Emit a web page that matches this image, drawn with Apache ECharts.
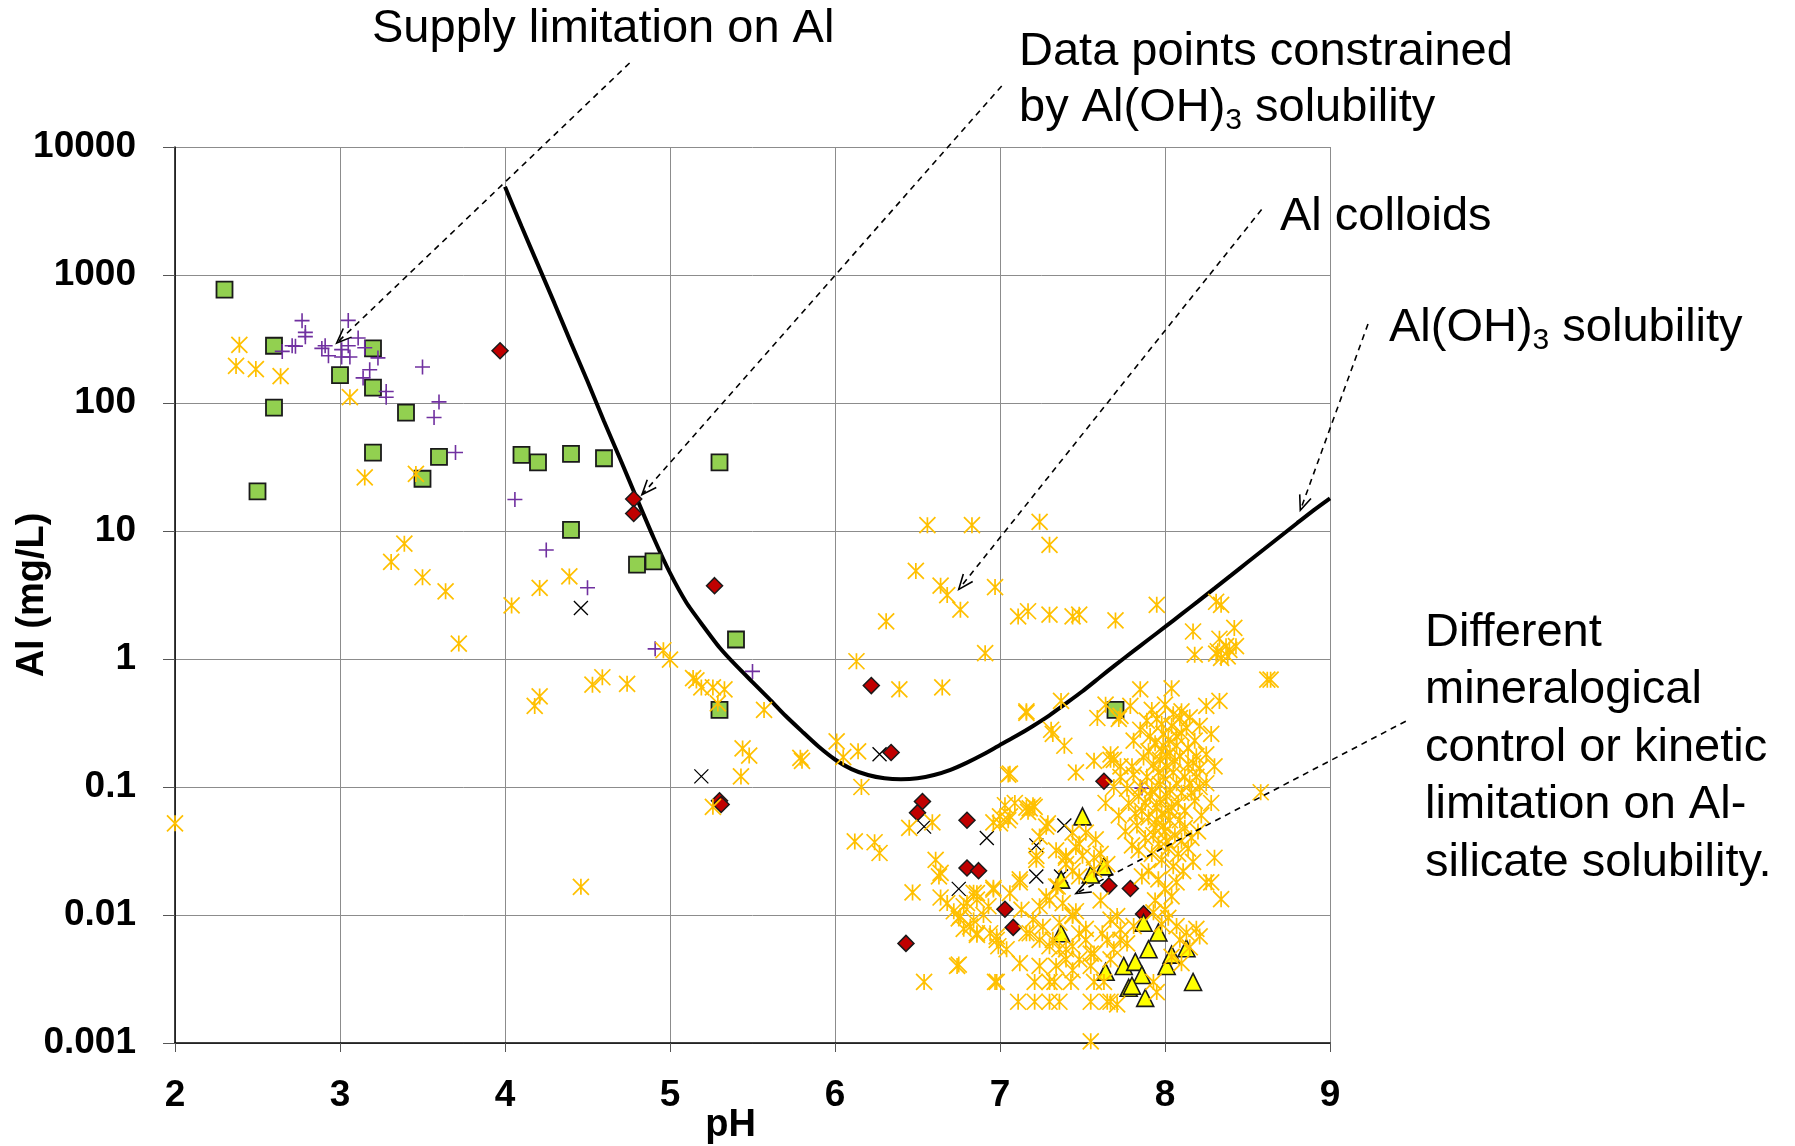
<!DOCTYPE html>
<html>
<head>
<meta charset="utf-8">
<script src="https://cdn.jsdelivr.net/npm/echarts@6/dist/echarts.min.js"></script>
<style>html,body{margin:0;padding:0;background:#fff;}#c{width:1795px;height:1146px;}</style>
</head>
<body>
<div id="c"></div>
<script>
// ---------------- DATA ----------------
const xTickLabels = ['2','3','4','5','6','7','8','9'];
const yTickLabels = ['0.001','0.01','0.1','1','10','100','1000','10000'];

// Al(OH)3 solubility curve (pH, Al mg/L), read every 0.1 pH
const solPH = [4.0,4.1,4.2,4.3,4.4,4.5,4.6,4.7,4.8,4.9,5.0,5.1,5.2,5.3,5.4,5.5,5.6,5.7,5.8,5.9,6.0,6.1,6.2,6.3,6.4,6.5,6.6,6.7,6.8,6.9,7.0,7.1,7.2,7.3,7.4,7.5,7.6,7.7,7.8,7.9,8.0,8.1,8.2,8.3,8.4,8.5,8.6,8.7,8.8,8.9,9.0];
const solAl = [4900,2400,1200,600,295,148,72,36,17.8,8.9,4.7,2.75,1.82,1.23,0.89,0.66,0.49,0.36,0.272,0.207,0.164,0.138,0.124,0.117,0.115,0.117,0.124,0.136,0.155,0.18,0.213,0.251,0.30,0.363,0.45,0.56,0.71,0.90,1.13,1.42,1.78,2.24,2.82,3.56,4.5,5.7,7.2,9.1,11.5,14.5,18];

// green squares
const greenPts = [[2.30,770],[2.60,280],[3.20,267],[3.00,165],[3.20,132],[3.40,84],[2.60,92],[3.20,41],[3.60,38],[3.50,25.6],[2.50,20.4],[4.10,39.4],[4.20,34.4],[4.40,40],[4.60,37],[5.30,34.4],[4.40,10.2],[4.80,5.46],[4.90,5.8],[5.40,1.42],[5.30,0.40],[7.70,0.40]];

// red diamonds
const redPts = [[3.97,256],[4.78,17.8],[4.78,13.7],[5.27,3.74],[6.22,0.62],[5.30,0.078],[5.31,0.073],[6.34,0.186],[6.53,0.077],[6.50,0.063],[6.80,0.055],[6.80,0.0233],[6.87,0.0222],[7.03,0.0111],[7.08,0.008],[6.43,0.006],[7.63,0.111],[7.66,0.0169],[7.79,0.0161],[7.87,0.0102]];

// purple plus
const purplePts = [[2.77,440],[2.79,356],[2.79,330],[2.71,280],[2.73,278],[2.65,253],[3.05,442],[3.11,322],[2.91,280],[2.89,267],[2.93,234],[3.01,261],[3.01,229],[3.06,229],[3.05,280],[3.15,270],[3.23,225],[3.18,182],[3.14,157],[3.28,123],[3.28,111],[3.50,191],[3.60,102],[3.57,77],[3.70,41],[4.06,17.6],[4.25,7.1],[4.50,3.6],[4.91,1.2],[5.50,0.80],[7.86,0.098]];

// black crosses
const blackXPts = [[4.46,2.5],[5.19,0.121],[6.27,0.18],[6.54,0.049],[6.92,0.040],[6.75,0.016],[7.22,0.035],[7.22,0.020],[7.39,0.050],[7.37,0.020]];

// yellow triangles
const trianglePts = [[7.50,0.059],[7.37,0.0189],[7.55,0.0207],[7.63,0.024],[7.37,0.0072],[7.64,0.0036],[7.75,0.0040],[7.82,0.0043],[7.86,0.0034],[7.78,0.0027],[7.80,0.0028],[7.88,0.00225],[7.87,0.0087],[7.96,0.0073],[7.90,0.0054],[8.01,0.0040],[8.04,0.0049],[8.13,0.0055],[8.17,0.0030]];

// orange-yellow asterisks
const yellowPts = [
[2.39,285],[2.37,195],[2.49,184],[2.64,162],[3.06,111],[3.15,26.2],[3.46,27.9],[3.39,7.96],[3.31,5.73],[3.50,4.35],[3.64,3.38],[3.72,1.32],[4.04,2.62],[4.21,3.59],[4.39,4.42],[4.21,0.51],[4.18,0.43],[2.00,0.052],[4.46,0.0166],
[4.96,1.17],[5.00,0.99],[5.14,0.71],[5.16,0.68],[5.19,0.60],[5.26,0.60],[5.33,0.58],[5.29,0.45],[4.74,0.64],[4.59,0.72],[4.53,0.63],[5.57,0.40],[5.44,0.20],[5.48,0.176],[5.43,0.121],[5.26,0.070],[5.79,0.169],[5.80,0.16],[6.01,0.227],[6.05,0.171],[6.14,0.19],[6.16,0.10],[6.12,0.0376],[6.24,0.037],[6.27,0.0305],[6.13,0.96],
[6.76,2.43],[6.64,3.74],[6.68,3.16],[6.31,1.97],[6.39,0.58],[6.65,0.60],[6.91,1.11],[7.11,2.15],[7.17,2.36],[7.30,2.22],[7.44,2.15],[7.48,2.22],[7.70,2.0],[6.56,11.1],[6.83,11.1],[7.24,11.8],[7.30,7.8],[6.49,4.88],[6.97,3.65],
[7.37,0.47],[7.16,0.39],[7.59,0.346],[7.64,0.44],[7.73,0.36],[7.85,0.58],[7.31,0.28],[7.32,0.26],[7.39,0.21],[7.46,0.13],[7.06,0.127],[7.57,0.16],[7.67,0.163],
[8.18,1.08],[8.32,1.15],[8.37,1.26],[8.43,1.26],[8.38,1.05],[8.34,1.02],[8.62,0.69],[8.04,0.59],[7.95,2.65],[8.31,2.8],[8.34,2.65],[8.17,1.64],[8.42,1.75],[8.33,1.44],[8.39,1.18],[8.31,1.10],
[7.79,0.43],[7.72,0.34],[8.10,0.39],[8.25,0.43],[8.33,0.47],[8.21,0.30],[8.28,0.26],[7.89,0.33],[7.95,0.34],[7.85,0.28],[7.81,0.23],[7.91,0.25],[8.09,0.345],[8.04,0.30],[8.10,0.264],[8.02,0.234],[8.07,0.21],[7.99,0.21],[8.03,0.185],[8.09,0.174],[7.97,0.163],[8.01,0.145],[8.19,0.174],[8.25,0.18],[8.30,0.145],[8.17,0.154],[8.21,0.14],[7.69,0.163],[7.67,0.18],[7.80,0.145],[7.73,0.145],[7.73,0.12],[7.81,0.125],[7.89,0.12],[7.85,0.10],[7.77,0.097],[7.69,0.10],[8.07,0.107],[8.15,0.107],[8.21,0.10],[8.25,0.107],[8.58,0.091],[7.97,0.08],[7.95,0.07],[8.01,0.085],[7.64,0.075],
[7.92,0.095],[7.98,0.062],[8.03,0.055],[8.08,0.075],[8.12,0.065],[8.18,0.078],[8.22,0.06],[8.28,0.075],[7.86,0.065],[7.90,0.058],[7.83,0.05],[7.94,0.048],[8.00,0.045],[8.06,0.042],[8.12,0.048],[8.16,0.04],[8.20,0.045],[7.88,0.04],[7.96,0.036],[8.02,0.033],[8.08,0.03],[8.14,0.033],[7.84,0.032],[7.92,0.03],[7.98,0.027],[8.05,0.024],[8.11,0.022],[8.17,0.026],[7.90,0.022],[7.96,0.019],[8.00,0.016],[8.04,0.014],[7.94,0.013],[8.00,0.011],[7.98,0.0085],[8.02,0.0095],[7.93,0.0105],[8.07,0.018],[7.86,0.02],[7.80,0.035],[7.76,0.045],[7.72,0.06],[7.78,0.075],[7.84,0.085],[7.99,0.12],[8.05,0.13],[8.12,0.12],[8.14,0.15],[8.06,0.16],[7.93,0.15],[7.87,0.17],[7.98,0.19],[8.14,0.2],[8.18,0.23],[7.99,0.26],[7.94,0.22],[8.13,0.29],[7.98,0.31],[8.05,0.37],[7.92,0.4],[8.00,0.44],[8.15,0.35],
[8.03,0.095],[7.97,0.105],[8.10,0.09],[7.91,0.085],[8.04,0.07],[7.95,0.055],[8.09,0.055],[8.01,0.038],[7.93,0.042],[8.10,0.038],[7.99,0.05],[8.02,0.065],[7.88,0.075],[7.82,0.062],[8.16,0.09],[8.19,0.12],[7.96,0.13],[8.01,0.175],[7.90,0.19],[8.07,0.25],
[8.30,0.028],[8.25,0.018],[8.34,0.0133],[7.67,0.0092],[7.73,0.0077],[7.65,0.0064],[7.77,0.006],[7.69,0.0054],[8.07,0.0082],[8.13,0.0073],[8.19,0.0078],[8.09,0.0064],[8.15,0.0056],[8.21,0.0068],[7.67,0.0021],[7.71,0.0020],[7.93,0.0030],[7.95,0.0025],[8.10,0.0042],[8.04,0.0047],
[7.21,0.070],[7.17,0.064],[7.05,0.055],[7.00,0.052],[7.28,0.049],[7.24,0.041],[7.34,0.032],[7.22,0.027],[7.40,0.029],[7.12,0.019],[6.96,0.0163],[6.84,0.0149],[6.68,0.0124],[6.78,0.0117],[6.86,0.0132],[6.64,0.0213],[6.76,0.0098],[6.82,0.0081],[6.86,0.0072],[6.98,0.0064],[6.99,0.0057],[7.13,0.011],[7.20,0.0092],[7.16,0.0072],[7.24,0.0064],[7.30,0.0057],[7.26,0.0081],[7.44,0.0098],[6.75,0.0041],[6.97,0.0030],[7.11,0.0021],[7.21,0.0021],[7.30,0.0021],[7.36,0.0021],[7.55,0.0021],[7.65,0.0021],[7.21,0.0030],[7.30,0.0030],[7.33,0.0030],[7.43,0.0030],[7.57,0.0030],[7.63,0.0030],[7.55,0.00103],[7.32,0.0064],[7.36,0.0054],[7.44,0.0057],[7.52,0.0064],[7.55,0.0050],[7.48,0.0045],[7.40,0.0045],[7.34,0.0040],[7.44,0.0037],[7.55,0.0040],[7.44,0.044],[7.48,0.036],[7.40,0.025],[7.50,0.029],[7.58,0.039],[7.61,0.030],[7.65,0.025],[7.57,0.0226],[7.48,0.020],[7.34,0.0167],[7.28,0.014],[7.24,0.0117],[7.38,0.0124],[7.44,0.010],
[6.45,0.048],[6.59,0.053],[6.61,0.027],[6.63,0.020],[6.47,0.015],[6.74,0.0040],[6.54,0.0030],[6.98,0.0030],[6.75,0.0094],[6.86,0.0148],[6.90,0.010],[6.96,0.0158],[6.86,0.007],[6.98,0.0068],[6.78,0.0078],[7.00,0.059],[7.06,0.059],[6.96,0.053],[7.18,0.068],[7.20,0.072],[7.29,0.052],[7.22,0.029],[7.12,0.018],[7.30,0.013],[7.35,0.0167],[7.40,0.028],[7.46,0.034],[7.52,0.044],[7.57,0.028],[7.44,0.022],[7.61,0.013],[7.71,0.0098],[7.48,0.0072],[7.57,0.005],[7.67,0.0045],[7.40,0.0054],[7.24,0.004],[7.12,0.0042],[7.04,0.0054],[6.94,0.0072],[6.84,0.0091],[6.72,0.0107],[6.64,0.0137],[6.80,0.0124],[6.93,0.0117],[7.06,0.0148],[7.18,0.0072],[7.36,0.0087],[7.46,0.0107],[7.52,0.0078],[7.62,0.0072],[7.73,0.0064],[7.81,0.0082],
[7.05,0.125],[7.16,0.38],[8.64,0.69],[8.28,0.018],[7.16,0.069],[7.03,0.072],[7.09,0.075]
];

// annotations: text, dashed-arrow tail (pixels) and arrow tip (data coords)
const annTexts = [
  {lines:['{a|Supply limitation on Al}'], x:372, y:29, lh:56},
  {lines:['{a|Data points constrained}','{a|by Al(OH)}{s|3}{a| solubility}'], x:1019, y:52, lh:56},
  {lines:['{a|Al colloids}'], x:1280, y:217, lh:56},
  {lines:['{a|Al(OH)}{s|3}{a| solubility}'], x:1389, y:328, lh:56},
  {lines:['{a|Different}','{a|mineralogical}','{a|control or kinetic}','{a|limitation on Al-}','{a|silicate solubility.}'], x:1425, y:633, lh:57.5}
];
const annTails = [[629.6,63],[1001.7,86],[1261.6,209.5],[1368,324],[1405.8,721.2]];
const annTips = [[2.98,294],[4.83,19.2],[6.75,3.5],[8.82,14.5],[7.46,0.0147]];

// ---------------- CHART ----------------
const FONT = '"Liberation Sans", Arial, Helvetica, sans-serif';
const chart = echarts.init(document.getElementById('c'), null, {renderer:'canvas'});

const SYM_AST = 'path://M0 0L10 10M10 0L0 10M5 0L5 10';
const SYM_PLUS = 'path://M5 0L5 10M0 5L10 5';
const SYM_X = 'path://M0 0L10 10M10 0L0 10';

const option = {
  animation: false,
  backgroundColor: '#ffffff',
  grid: {left:175, right:465, top:147, bottom:103, containLabel:false, outerBoundsMode:'none'},
  xAxis: {
    type:'value', min:2, max:9, interval:1,
    name:'pH', nameLocation:'middle', nameGap:64, nameMoveOverlap:false,
    nameTextStyle:{fontSize:38, fontWeight:'bold', color:'#000', fontFamily:FONT, padding:[0,44,0,0]},
    axisLine:{show:true, onZero:false, lineStyle:{color:'#000', width:1.5}},
    axisTick:{show:true, length:9, lineStyle:{color:'#555', width:1}},
    axisLabel:{fontSize:37, fontWeight:'bold', color:'#000', margin:34, fontFamily:FONT,
      formatter:(v)=>xTickLabels[Math.round(v-2)]},
    splitLine:{show:true, lineStyle:{color:'#8c8c8c', width:1}}
  },
  yAxis: {
    type:'log', logBase:10, min:0.001, max:10000, splitNumber:7,
    name:'Al (mg/L)', nameLocation:'middle', nameRotate:90, nameGap:123, nameMoveOverlap:false,
    nameTextStyle:{fontSize:38, fontWeight:'bold', color:'#000', fontFamily:FONT},
    axisLine:{show:true, lineStyle:{color:'#000', width:1.5}},
    axisTick:{show:true, length:12, lineStyle:{color:'#555', width:1}},
    axisLabel:{fontSize:37, fontWeight:'bold', color:'#000', margin:39, fontFamily:FONT,
      formatter:(v)=>yTickLabels[Math.round(Math.log10(v))+3]},
    splitLine:{show:true, lineStyle:{color:'#8c8c8c', width:1}},
    minorTick:{show:false}
  },
  series: [
    {type:'line', name:'Al(OH)3 solubility', data: solPH.map((p,i)=>[p, solAl[i]]),
      symbol:'none', smooth:0.2, lineStyle:{color:'#000', width:4}, z:1, silent:true},
    {type:'scatter', name:'green', data:greenPts, symbol:'rect', symbolSize:16,
      itemStyle:{color:'#92D050', borderColor:'#1a1a1a', borderWidth:1.8, opacity:1}, z:2},
    {type:'scatter', name:'red', data:redPts, symbol:'diamond', symbolSize:16,
      itemStyle:{color:'#C00000', borderColor:'#1a1a1a', borderWidth:1.5, opacity:1}, z:3},
    {type:'scatter', name:'purple', data:purplePts, symbol:SYM_PLUS, symbolSize:15,
      itemStyle:{color:'rgba(0,0,0,0)', borderColor:'#7030A0', borderWidth:1.6, opacity:1}, z:4},
    {type:'scatter', name:'blackx', data:blackXPts, symbol:SYM_X, symbolSize:14,
      itemStyle:{color:'rgba(0,0,0,0)', borderColor:'#000', borderWidth:1.3, opacity:1}, z:5},
    {type:'scatter', name:'tri', data:trianglePts, symbol:'triangle', symbolSize:17,
      itemStyle:{color:'#FFFF00', borderColor:'#1a1a1a', borderWidth:1.6, opacity:1}, z:6},
    {type:'scatter', name:'yellow', data:yellowPts, symbol:SYM_AST, symbolSize:16,
      itemStyle:{color:'rgba(0,0,0,0)', borderColor:'#FFC000', borderWidth:1.7, opacity:1}, z:7}
  ]
};
chart.setOption(option);

// annotations (text + dashed arrows)
const graphics = [];
annTexts.forEach(t=>{
  const rich = {
    a:{fontSize:47, fontFamily:FONT, color:'#000', lineHeight:t.lh},
    s:{fontSize:30, fontFamily:FONT, color:'#000', lineHeight:30, verticalAlign:'bottom'}
  };
  graphics.push({type:'text', x:t.x, y:t.y-t.lh/2, z:50, silent:true,
    style:{text:t.lines.join('\n'), rich:rich, fill:'#000', font:'47px '+FONT, verticalAlign:'top', align:'left', lineHeight:t.lh}});
});
annTips.forEach((tip,i)=>{
  const p = chart.convertToPixel({gridIndex:0}, tip);
  const t = annTails[i];
  graphics.push({type:'line', z:40, silent:true,
    shape:{x1:t[0], y1:t[1], x2:p[0], y2:p[1]},
    style:{stroke:'#000', lineWidth:1.6, lineDash:[6,5]}});
  const ang = Math.atan2(p[1]-t[1], p[0]-t[0]);
  const L = 16, a = 22*Math.PI/180;
  const p1 = [p[0]-L*Math.cos(ang-a), p[1]-L*Math.sin(ang-a)];
  const p2 = [p[0]-L*Math.cos(ang+a), p[1]-L*Math.sin(ang+a)];
  graphics.push({type:'polyline', z:40, silent:true,
    shape:{points:[p1, p, p2]}, style:{stroke:'#000', lineWidth:1.6, fill:null}});
});
chart.setOption({graphic: graphics});
</script>
</body>
</html>
